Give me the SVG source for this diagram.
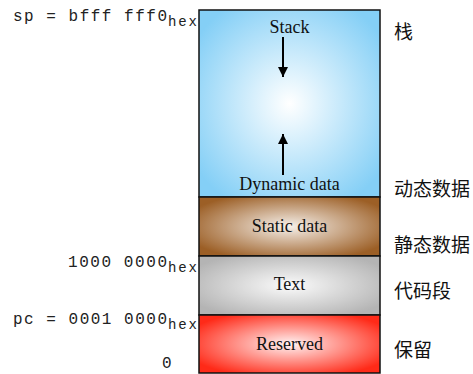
<svg xmlns="http://www.w3.org/2000/svg" width="473" height="374" viewBox="0 0 473 374">
<style>
.mono{font-family:"Liberation Mono","DejaVu Sans Mono",monospace;font-size:16px;fill:#222}
.sub{font-family:"Liberation Mono","DejaVu Sans Mono",monospace;font-size:14px;fill:#222}
.seg{font-family:"Liberation Serif","Times New Roman",serif;font-size:18px;fill:#111;text-anchor:middle}
.cn{font-family:"Noto Sans CJK SC","Noto Sans",sans-serif;font-size:19px;fill:#111;dominant-baseline:central}
.box{stroke:#111;stroke-width:1.5}
.arr{stroke:#000;stroke-width:2;fill:none}
</style>
<defs>
<radialGradient id="gStack" cx="0.5" cy="0.5" r="0.62">
<stop offset="0" stop-color="#ffffff"/>
<stop offset="1" stop-color="#84cff6"/>
</radialGradient>
<radialGradient id="gStatic" cx="0.5" cy="0.5" r="0.6">
<stop offset="0" stop-color="#f6f0ea"/>
<stop offset="1" stop-color="#9c5f26"/>
</radialGradient>
<radialGradient id="gText" cx="0.5" cy="0.5" r="0.6">
<stop offset="0" stop-color="#fbfbfb"/>
<stop offset="1" stop-color="#b4b4b4"/>
</radialGradient>
<radialGradient id="gRes" cx="0.5" cy="0.5" r="0.6">
<stop offset="0" stop-color="#fff4f4"/>
<stop offset="1" stop-color="#ff2a18"/>
</radialGradient>
<marker id="ah" viewBox="0 0 10 12" refX="10" refY="6" markerWidth="10" markerHeight="12" markerUnits="userSpaceOnUse" orient="auto">
<path d="M0,1 L10,6 L0,11 Z" fill="#000"/>
</marker>
</defs>
<g id="stack">
<rect class="box" x="199" y="10" width="181" height="187" fill="url(#gStack)"/>
<text class="seg" x="289.5" y="33">Stack</text>
<text class="seg" x="289.5" y="190">Dynamic data</text>
</g>
<g id="static">
<rect class="box" x="199" y="197" width="181" height="59" fill="url(#gStatic)"/>
<text class="seg" x="289.5" y="232">Static data</text>
</g>
<g id="text">
<rect class="box" x="199" y="256" width="181" height="59" fill="url(#gText)"/>
<text class="seg" x="289.5" y="290">Text</text>
</g>
<g id="reserved">
<rect class="box" x="199" y="315" width="181" height="58" fill="url(#gRes)"/>
<text class="seg" x="289.5" y="350">Reserved</text>
</g>
<g id="connectors">
<line class="arr" x1="283" y1="37" x2="283" y2="77" marker-end="url(#ah)"/>
<line class="arr" x1="283" y1="175" x2="283" y2="134" marker-end="url(#ah)"/>
</g>
<g id="addresses">
<text class="mono" x="13" y="21" textLength="154" lengthAdjust="spacing">sp = bfff fff0</text>
<text class="sub" x="168" y="26" textLength="29" lengthAdjust="spacing">hex</text>
<text class="mono" x="68" y="267" textLength="99" lengthAdjust="spacing">1000 0000</text>
<text class="sub" x="168" y="272" textLength="29" lengthAdjust="spacing">hex</text>
<text class="mono" x="13" y="324" textLength="154" lengthAdjust="spacing">pc = 0001 0000</text>
<text class="sub" x="168" y="329" textLength="29" lengthAdjust="spacing">hex</text>
<text class="mono" x="162" y="368">0</text>
</g>
<g id="labels">
<text class="cn" x="394" y="30">栈</text>
<text class="cn" x="394" y="187">动态数据</text>
<text class="cn" x="394" y="243">静态数据</text>
<text class="cn" x="394" y="289">代码段</text>
<text class="cn" x="394" y="348">保留</text>
</g>
</svg>
